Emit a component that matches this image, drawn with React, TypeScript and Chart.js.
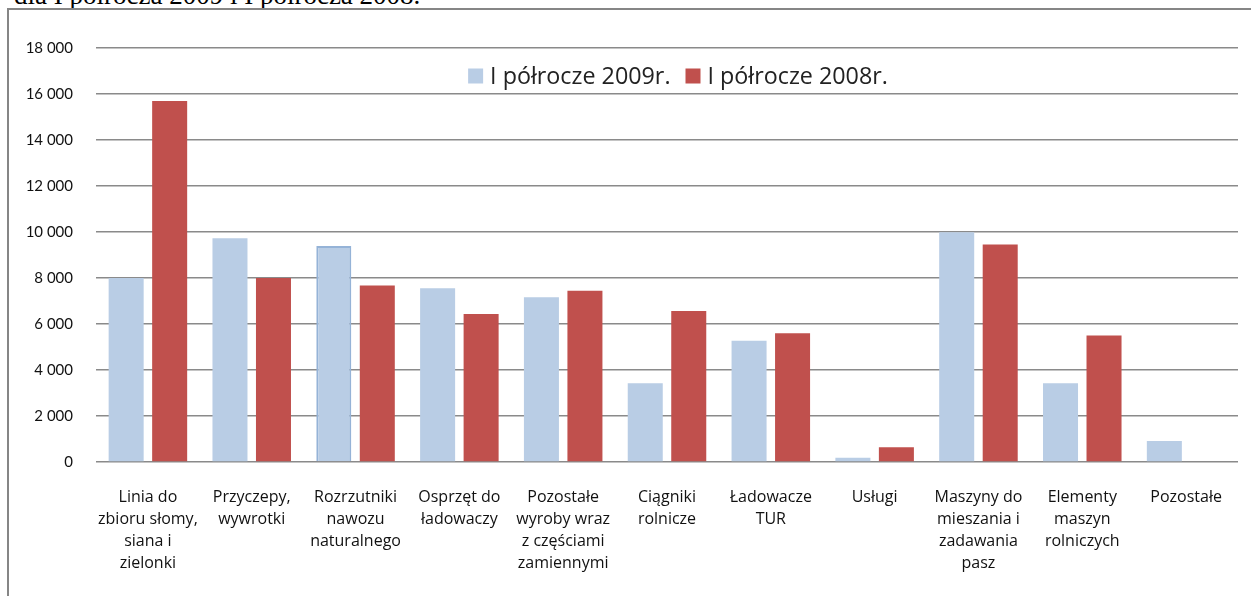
import React, { useEffect, useRef } from "react";
import { Chart, registerables } from "chart.js";

Chart.register(...registerables);

const categories: string[][] = [
  ["Linia do", "zbioru słomy,", "siana i", "zielonki"],
  ["Przyczepy,", "wywrotki"],
  ["Rozrzutniki", "nawozu", "naturalnego"],
  ["Osprzęt do", "ładowaczy"],
  ["Pozostałe", "wyroby wraz", "z częściami", "zamiennymi"],
  ["Ciągniki", "rolnicze"],
  ["Ładowacze", "TUR"],
  ["Usługi"],
  ["Maszyny do", "mieszania i", "zadawania", "pasz"],
  ["Elementy", "maszyn", "rolniczych"],
  ["Pozostałe"],
];

const series2009Label = "I półrocze 2009r.";
const series2008Label = "I półrocze 2008r.";

const values2009: number[] = [8000, 9730, 9390, 7550, 7160, 3420, 5270, 190, 9990, 3420, 910];
const values2008: number[] = [15700, 8000, 7670, 6440, 7450, 6560, 5600, 640, 9460, 5500, 0];

const yTicksMin = 0;
const yTicksMax = 18000;
const yTicksStep = 2000;

const titleText = "dla I półrocza 2009 i I półrocza 2008.";

const fmt = (v: number) => String(v).replace(/\B(?=(\d{3})+(?!\d))/g, " ");

const insideLegend = {
  id: "insideLegend",
  afterDraw(chart: any) {
    const ctx = chart.ctx;
    const area = chart.chartArea;
    const font = "23.3px 'Open Sans'";
    ctx.save();
    ctx.font = font;
    ctx.textBaseline = "middle";
    const box = 15;
    const gap = 7;
    const itemGap = 15;
    const items = chart.data.datasets.map((d: any) => ({
      label: d.label,
      color: d.backgroundColor,
      w: box + gap + ctx.measureText(d.label).width,
    }));
    const total = items.reduce((s: number, it: any) => s + it.w, 0) + itemGap * (items.length - 1);
    const cx = (area.left + area.right) / 2 + 11;
    const cy = area.top + 28;
    let x = cx - total / 2;
    for (const it of items) {
      ctx.fillStyle = it.color;
      ctx.fillRect(x, cy - box / 2, box, box);
      ctx.fillStyle = "#222";
      ctx.fillText(it.label, x + box + gap, cy + 1);
      x += it.w + itemGap;
    }
    ctx.restore();
  },
};

export default function App() {
  const canvasRef = useRef<HTMLCanvasElement | null>(null);

  useEffect(() => {
    if (!canvasRef.current) return;
    const chart = new Chart(canvasRef.current, {
      type: "bar",
      data: {
        labels: categories,
        datasets: [
          {
            label: series2009Label,
            data: values2009,
            backgroundColor: "#b9cde5",
            borderColor: "#95b3d7",
            borderWidth: (c: any) => (c.dataIndex === 2 ? 2 : 0),
            categoryPercentage: 0.838,
            barPercentage: 0.805,
          },
          {
            label: series2008Label,
            data: values2008,
            backgroundColor: "#c0504d",
            borderWidth: 0,
            categoryPercentage: 0.838,
            barPercentage: 0.805,
          },
        ],
      },
      options: {
        animation: false,
        responsive: false,
        maintainAspectRatio: false,
        layout: { padding: { left: 0, right: 13, top: 48, bottom: 0 } },
        plugins: {
          legend: { display: false },
          tooltip: { enabled: false },
        },
        scales: {
          x: {
            grid: { display: false, drawTicks: false },
            border: { display: false },
            ticks: {
              padding: 24,
              maxRotation: 0,
              autoSkip: false,
              color: "#111",
              font: { family: "'Open Sans'", size: 16, lineHeight: 1.375 },
            },
            afterFit(scale: any) {
              scale.height = 134;
            },
          },
          y: {
            min: yTicksMin,
            max: yTicksMax,
            ticks: {
              stepSize: yTicksStep,
              padding: 23,
              color: "#111",
              font: { family: "Lato", size: 15 },
              callback: (v: any) => fmt(Number(v)),
            },
            grid: { color: "#8a8a8a", lineWidth: 1.5, drawTicks: false },
            border: { display: false },
            afterFit(scale: any) {
              scale.width = 96;
            },
          },
        },
      },
      plugins: [insideLegend],
    });
    return () => chart.destroy();
  }, []);

  return (
    <div style={{ position: "absolute", left: 0, top: 0, width: 1251, height: 596, overflow: "hidden", background: "#fff" }}>
      <div
        style={{
          position: "absolute",
          left: 14,
          top: -18,
          fontFamily: "'Liberation Serif', 'Times New Roman', serif",
          fontSize: 27,
          lineHeight: "27px",
          whiteSpace: "nowrap",
          color: "#000",
        }}
      >
        {titleText}
      </div>
      <div
        style={{
          position: "absolute",
          left: 7,
          top: 8,
          width: 1300,
          height: 700,
          border: "2px solid #868686",
          boxSizing: "border-box",
        }}
      />
      <canvas
        ref={canvasRef}
        width={1251}
        height={596}
        style={{ position: "absolute", left: 0, top: 0, width: 1251, height: 596 }}
      />
    </div>
  );
}
